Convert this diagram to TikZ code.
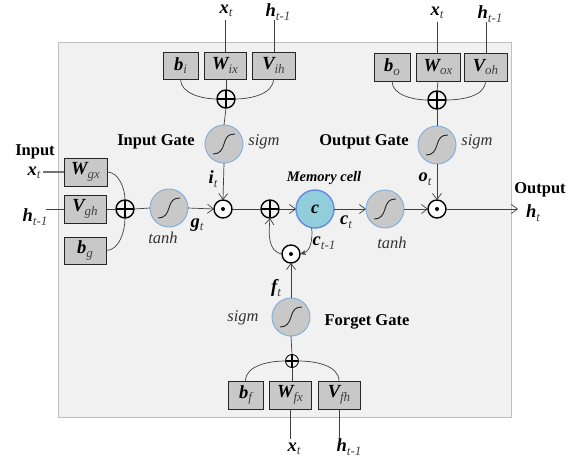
\documentclass[tikz,border=0pt]{standalone}
\usepackage{fontspec}
\setmainfont{Liberation Serif}
\usetikzlibrary{arrows.meta}
\definecolor{panel}{HTML}{F1F1F1}
\definecolor{boxgray}{HTML}{C8C8C8}
\definecolor{ringblue}{HTML}{7FAEDB}
\definecolor{cellblue}{HTML}{92CDDC}
\definecolor{wire}{HTML}{404040}
\newcommand{\vlab}[2]{{\fontsize{18.5}{18}\selectfont\bfseries\itshape #1}\raisebox{-3.5pt}{\fontsize{13}{13}\selectfont\itshape\color{black!75}#2}}
\tikzset{
  every node/.style={inner sep=0pt,outer sep=0pt},
  wgt/.style={draw=black!85,line width=0.8pt,fill=boxgray,anchor=north west},
  sigmoid/.style={circle,draw=ringblue,line width=0.9pt,fill=boxgray,minimum size=38pt,
    path picture={\draw[line width=0.9pt,black!85]
      ([shift={(-11pt,-10pt)}]path picture bounding box.center)
      .. controls +(7pt,0pt) and +(-2pt,-6pt) .. (path picture bounding box.center)
      .. controls +(2pt,7pt) and +(-7pt,0pt) .. ([shift={(11pt,10pt)}]path picture bounding box.center);}},
  opplus/.style={circle,draw=black,line width=1.4pt,fill=panel,minimum size=18pt,
    path picture={\draw[line width=1.1pt,black]
      (path picture bounding box.north)--(path picture bounding box.south)
      (path picture bounding box.west)--(path picture bounding box.east);}},
  smallplus/.style={opplus,minimum size=13pt,line width=0.9pt,preaction={draw=white,line width=3pt}},
  opdot/.style={circle,draw=black,line width=1.4pt,fill=white,minimum size=18pt,
    path picture={\fill[black] (path picture bounding box.center) circle (2pt);}},
  conn/.style={draw=wire,line width=0.7pt},
  arr/.style={conn,-{Straight Barb[length=6pt,width=9pt]}},
  solidarr/.style={conn,-{Stealth[length=6pt,width=5pt]}},
  gate/.style={font=\fontsize{16.5}{16}\selectfont\bfseries},
  fn/.style={font=\fontsize{16.5}{16}\selectfont\itshape,text=black!80},
}
\begin{document}
\begin{tikzpicture}[x=1pt,y=-1pt]
\useasboundingbox (0,0) rectangle (579,464);
\node[draw=black!25,line width=0.8pt,fill=panel,minimum width=453pt,minimum height=375pt,anchor=north west] (panelbox) at (58,42) {};
% input gate weights
\node[wgt,minimum width=35pt,minimum height=27pt] (bi) at (163,52) {\vlab{b}{i}};
\node[wgt,minimum width=42pt,minimum height=27pt] (wix) at (204,52) {\vlab{W}{ix}};
\node[wgt,minimum width=43pt,minimum height=27pt] (vih) at (252,52) {\vlab{V}{ih}};
\node[opplus] (pi) at (226,99) {};
\node[sigmoid] (si) at (224,144) {};
% output gate weights
\node[wgt,minimum width=36pt,minimum height=28pt] (bo) at (374,53) {\vlab{b}{o}};
\node[wgt,minimum width=44pt,minimum height=28pt] (wox) at (416,53) {\vlab{W}{ox}};
\node[wgt,minimum width=43pt,minimum height=28pt] (voh) at (464,53) {\vlab{V}{oh}};
\node[opplus] (po) at (437,100) {};
\node[sigmoid] (so) at (437,145) {};
% g weights
\node[wgt,minimum width=43pt,minimum height=28pt] (wgx) at (64,158) {\vlab{W}{gx}};
\node[wgt,minimum width=42pt,minimum height=28pt] (vgh) at (64,195) {\vlab{V}{gh}};
\node[wgt,minimum width=42pt,minimum height=27pt] (bg) at (64,237) {\vlab{b}{g}};
\node[opplus] (pg) at (125,209) {};
\node[sigmoid] (tg) at (169,208) {};
% main row
\node[opdot] (di) at (223,209) {};
\node[opplus] (pc) at (270,209) {};
\node[circle,draw=ringblue!80!blue,line width=1.4pt,fill=cellblue,minimum size=38pt] (cell) at (315,209) {\fontsize{18}{18}\selectfont\bfseries\itshape c};
\node[sigmoid] (tc) at (385,209) {};
\node[opdot] (dout) at (437,209) {};
\node[opdot] (df) at (291,254) {};
% forget gate
\node[sigmoid] (sf) at (291,317) {};
\node[smallplus] (pf) at (292,361) {};
\node[wgt,minimum width=35pt,minimum height=28pt] (bf) at (228,381) {\vlab{b}{f}};
\node[wgt,minimum width=42pt,minimum height=28pt] (wfx) at (269,381) {\vlab{W}{fx}};
\node[wgt,minimum width=42pt,minimum height=28pt] (vfh) at (318,381) {\vlab{V}{fh}};
% texts
\node[gate] (tinput) at (35,152) {Input};
\node (xg) at (34,173) {\vlab{x}{t}};
\node (hg) at (35,217) {\vlab{h}{t-1}};
\node[gate] (tig) at (156,142) {Input Gate};
\node[fn] (fsi) at (264,142) {sigm};
\node[gate] (tog) at (364,142) {Output Gate};
\node[fn] (fso) at (477,142) {sigm};
\node (xi) at (226,11) {\vlab{x}{t}};
\node (hi) at (278,12) {\vlab{h}{t-1}};
\node (xo) at (437,13) {\vlab{x}{t}};
\node (ho) at (490,14) {\vlab{h}{t-1}};
\node (lit) at (213,179) {\vlab{i}{t}};
\node (lgt) at (197,225) {\vlab{g}{t}};
\node[fn] (ftg) at (163,238) {tanh};
\node (lft) at (276,288) {\vlab{f}{t}};
\node (lot) at (425,179) {\vlab{o}{t}};
\node[font=\fontsize{14.5}{14}\selectfont\bfseries\itshape] (tmem) at (324,178) {Memory cell};
\node (lct) at (346,222) {\vlab{c}{t}};
\node (lctm) at (324,243) {\vlab{c}{t-1}};
\node[fn] (ftc) at (392,243) {tanh};
\node[gate] (tout) at (540,190) {Output};
\node (hout) at (533,213) {\vlab{h}{t}};
\node[gate] (tfg) at (367,322) {Forget Gate};
\node[fn] (fsf) at (243,318) {sigm};
\node (xf) at (294,449) {\vlab{x}{t}};
\node (hf) at (349,447) {\vlab{h}{t-1}};
% free ends
\coordinate (cxi) at (225,20);
\coordinate (chi) at (274,20);
\coordinate (cxo) at (437,22);
\coordinate (cho) at (486,22);
\coordinate (cxg) at (43,172);
\coordinate (chg) at (46,209);
\coordinate (cxf) at (290,439);
\coordinate (chf) at (339,439);
\coordinate (cout) at (518,209);
% connectors
\draw[conn] (cxi) -- (cxi |- wix.north);
\draw[conn] (chi) -- (chi |- vih.north);
\draw[conn] (cxo) -- (cxo |- wox.north);
\draw[conn] (cho) -- (cho |- voh.north);
\draw[conn] (bi.south) to[out=-90,in=180,looseness=0.9] (pi.west);
\draw[conn] (vih.south) to[out=-90,in=0,looseness=0.9] (pi.east);
\draw[conn] (pi.north |- wix.south) -- (pi.north);
\draw[conn] (pi.south) -- (si.north);
\draw[conn] (bo.south) to[out=-90,in=180,looseness=0.9] (po.west);
\draw[conn] (voh.south) to[out=-90,in=0,looseness=0.9] (po.east);
\draw[conn] (wox.south) -- (po.north);
\draw[conn] (po.south) -- (so.north);
\draw[conn,line width=1.2pt,draw=black!55] (cxg) -- (cxg -| wgx.west);
\draw[conn] (chg) -- (vgh.west);
\draw[conn] (wgx.east) to[out=0,in=90,looseness=0.9] (pg.north);
\draw[conn] (bg.east) to[out=0,in=-90,looseness=0.9] (pg.south);
\draw[conn] (vgh.east) -- (pg.west);
\draw[conn] (pg.east) -- (tg.west);
\draw[arr] (tg.east) -- (di.west);
\draw[arr] (si.south) -- (di.north);
\draw[conn] (di.east) -- (pc.west);
\draw[arr] (pc.east) -- (cell.west);
\draw[arr] (cell.east) -- (tc.west);
\draw[arr] (tc.east) -- (dout.west);
\draw[arr] (so.south) -- (dout.north);
\draw[arr] (dout.east) -- (cout);
\draw[solidarr] (cell.-100) to[out=-85,in=15] (df.east);
\draw[arr] (df.west) to[out=170,in=-95] (pc.south);
\draw[arr] (sf.north) -- (df.south);
\draw[conn] (sf.south) -- (pf.north);
\draw[conn] (wfx.north -| pf) -- (pf.south);
\draw[conn] (bf.north) to[out=90,in=180,looseness=0.9] (pf.west);
\draw[conn] (vfh.north) to[out=90,in=0,looseness=0.9] (pf.east);
\draw[conn] (cxf) -- (cxf |- wfx.south);
\draw[conn] (chf) -- (chf |- vfh.south);
\end{tikzpicture}
\end{document}
